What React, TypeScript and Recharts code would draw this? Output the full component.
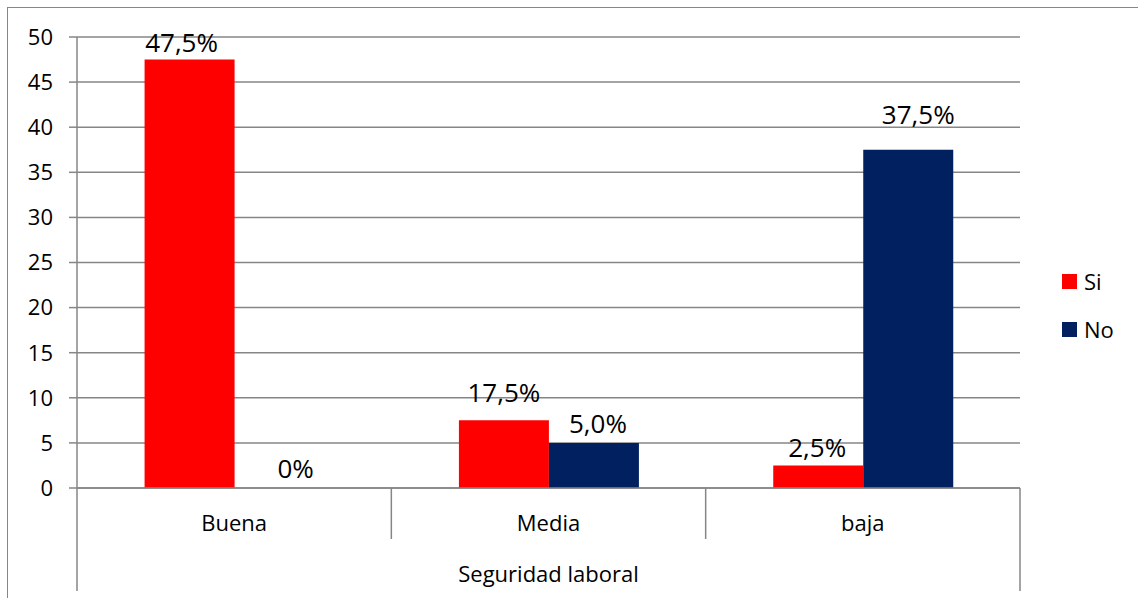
import React from 'react'
import { BarChart, Bar, XAxis, YAxis, CartesianGrid, LabelList } from 'recharts'

const categories = ['Buena', 'Media', 'baja']
const siValues = [47.5, 7.5, 2.5]
const noValues = [0, 5, 37.5]
const siLabels = ['47,5%', '17,5%', '2,5%']
const noLabels = ['0%', '5,0%', '37,5%']
const yTicks = [0, 5, 10, 15, 20, 25, 30, 35, 40, 45, 50]
const axisTitle = 'Seguridad laboral'

const WIDTH = 1138
const HEIGHT = 598
const MARGIN = { top: 37, right: 118, bottom: 0, left: 0 }
const Y_AXIS_W = 77
const X_AXIS_H = 110
const PLOT_W = WIDTH - MARGIN.left - MARGIN.right - Y_AXIS_W
const STEP = PLOT_W / categories.length

const GRAY = '#868686'
const RED = '#ff0000'
const NAVY = '#002060'
const FONT = '"Open Sans", sans-serif'

// the labels in the original were dragged around a bit by hand
const labelNudge: Record<string, { dx: number[]; lift: number[] }> = {
  si: { dx: [-8, 0, -1], lift: [8, 18, 8] },
  no: { dx: [16, 4, 10], lift: [10, 10, 26] },
}
const labelText: Record<string, string[]> = { si: siLabels, no: noLabels }

const data = categories.map((c, i) => ({
  cat: c,
  si: siValues[i],
  no: noValues[i],
  siLabel: siLabels[i],
  noLabel: noLabels[i],
}))

const CategoryTick = (props: any) => {
  const { x, y, payload, index } = props
  const last = categories.length - 1
  return (
    <g>
      <text x={x} y={y + 43} textAnchor="middle" fontSize={22} fontFamily={FONT} fill="#000">
        {payload.value}
      </text>
      {index < last && (
        <line x1={x + STEP / 2} x2={x + STEP / 2} y1={y} y2={y + 51} stroke={GRAY} strokeWidth={1.5} />
      )}
      {index === 0 && (
        <>
          <line x1={x - STEP / 2} x2={x - STEP / 2} y1={y} y2={y + 103} stroke={GRAY} strokeWidth={1.5} />
          <text
            x={x - STEP / 2 + (STEP * categories.length) / 2}
            y={y + 94}
            textAnchor="middle"
            fontSize={22}
            fontFamily={FONT}
            fill="#000"
          >
            {axisTitle}
          </text>
        </>
      )}
      {index === last && (
        <line x1={x + STEP / 2} x2={x + STEP / 2} y1={y} y2={y + 103} stroke={GRAY} strokeWidth={1.5} />
      )}
    </g>
  )
}

const makeLabel = (series: 'si' | 'no') => (props: any) => {
  const { x, y, width, value } = props
  const i = labelText[series].indexOf(String(value))
  if (i < 0) return null
  const n = labelNudge[series]
  return (
    <text
      x={x + width / 2 + n.dx[i]}
      y={y - n.lift[i]}
      textAnchor="middle"
      fontSize={26}
      fontFamily={FONT}
      fill="#000"
    >
      {value}
    </text>
  )
}

const legendItems = [
  { name: 'Si', color: RED },
  { name: 'No', color: NAVY },
]

const App: React.FC = () => {
  return (
    <div
      style={{
        position: 'fixed',
        left: 0,
        top: 0,
        width: WIDTH,
        height: HEIGHT,
        overflow: 'hidden',
        background: '#fff',
      }}
    >
      <div
        style={{
          position: 'absolute',
          left: 7,
          top: 7,
          width: 1400,
          height: 800,
          borderTop: `1.5px solid ${GRAY}`,
          borderLeft: `1.5px solid ${GRAY}`,
        }}
      />
      <div style={{ position: 'absolute', left: 0, top: 0 }}>
        <BarChart width={WIDTH} height={HEIGHT} data={data} margin={MARGIN} barCategoryGap="21.5%" barGap={0}>
          <CartesianGrid vertical={false} stroke={GRAY} strokeWidth={1.5} />
          <Bar dataKey="si" name="Si" fill={RED} isAnimationActive={false}>
            <LabelList dataKey="siLabel" content={makeLabel('si')} />
          </Bar>
          <Bar dataKey="no" name="No" fill={NAVY} minPointSize={0.01} isAnimationActive={false}>
            <LabelList dataKey="noLabel" content={makeLabel('no')} />
          </Bar>
          <XAxis
            dataKey="cat"
            height={X_AXIS_H}
            axisLine={{ stroke: GRAY, strokeWidth: 1.5 }}
            tickLine={false}
            tickSize={0}
            tickMargin={0}
            interval={0}
            tick={<CategoryTick />}
          />
          <YAxis
            width={Y_AXIS_W}
            domain={[0, 50]}
            ticks={yTicks}
            interval={0}
            axisLine={{ stroke: GRAY, strokeWidth: 1.5 }}
            tickLine={{ stroke: GRAY, strokeWidth: 1.5 }}
            tickSize={8}
            tickMargin={16}
            tick={{ fontSize: 22, fontFamily: FONT, fill: '#000' }}
          />
        </BarChart>
      </div>
      {legendItems.map((item, i) => (
        <div
          key={item.name}
          style={{
            position: 'absolute',
            left: 1062,
            top: 266 + i * 48,
            display: 'flex',
            alignItems: 'center',
            fontFamily: FONT,
            fontSize: 22,
            color: '#000',
            lineHeight: '30px',
          }}
        >
          <span style={{ display: 'inline-block', width: 15, height: 15, background: item.color, marginRight: 7 }} />
          {item.name}
        </div>
      ))}
    </div>
  )
}

export default App
